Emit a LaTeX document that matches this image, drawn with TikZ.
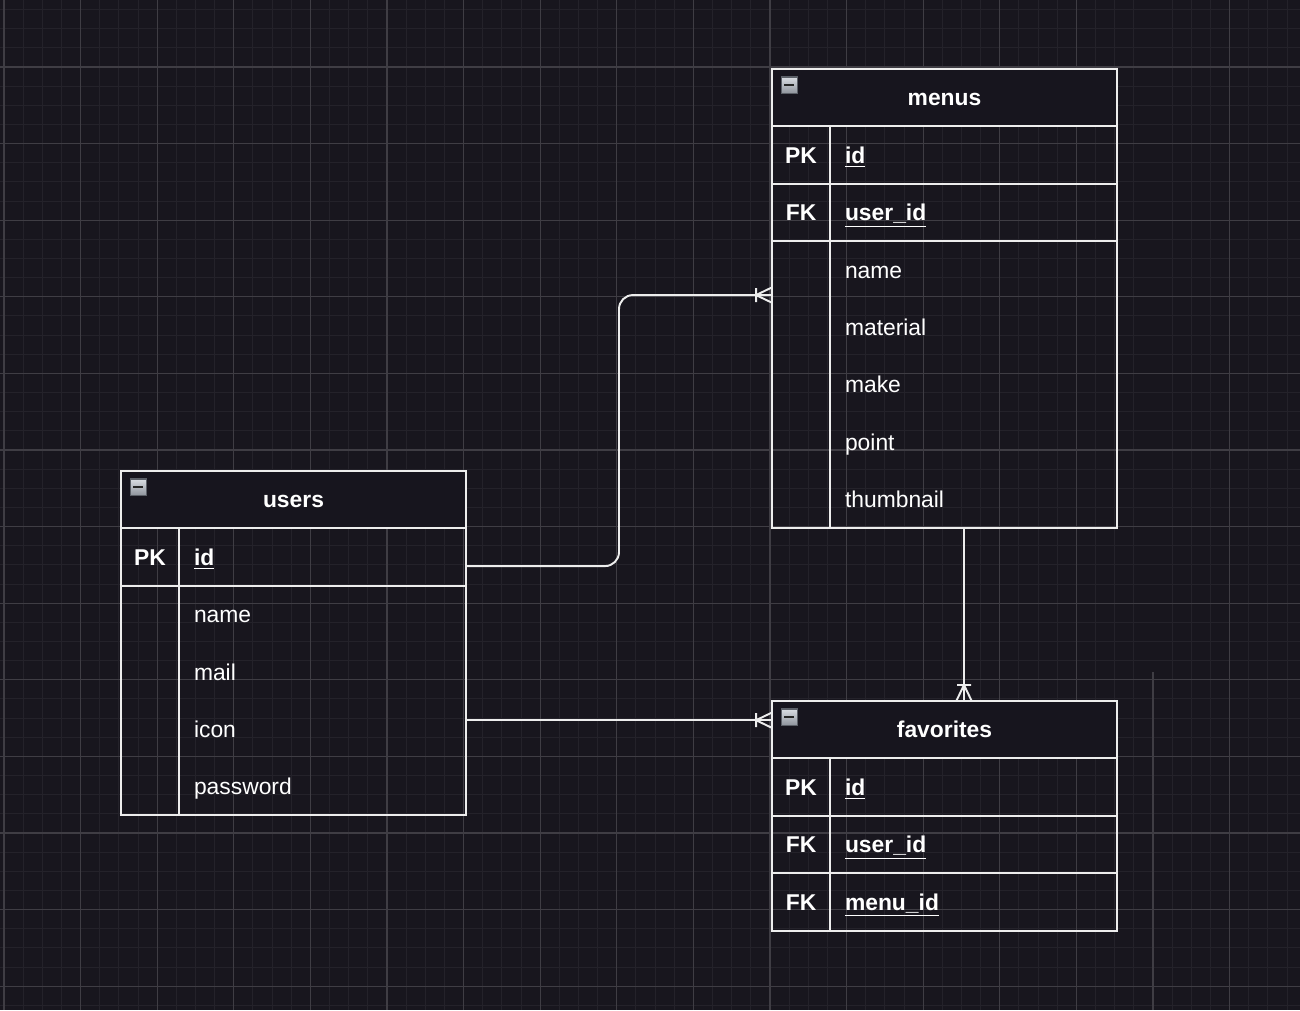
\documentclass[tikz,border=0pt]{standalone}
\usepackage{fontspec}
\setmainfont{Liberation Sans}
\usetikzlibrary{positioning, calc, decorations.markings}
\definecolor{CanvasDark}{HTML}{18161E}
\definecolor{GridMinor}{HTML}{24222A}
\definecolor{GridMajor}{HTML}{3F3D44}
\definecolor{TableLine}{HTML}{EDEDED}
\definecolor{TableHead}{HTML}{17151E}
\definecolor{ToggleEdge}{HTML}{5C6068}
\definecolor{ToggleTop}{HTML}{DADDE3}
\definecolor{ToggleBottom}{HTML}{8E939C}
\tikzset{
    % Table title bar
    tbltitle/.style={
        rectangle,
        draw=TableLine,
        fill=TableHead,
        line width=1.1pt,
        minimum width=6.9cm,
        minimum height=1.148cm,
        inner sep=0pt,
        outer sep=0pt,
        text=white,
        text height=0.33cm,
        text depth=0pt,
        font=\fontsize{13}{15}\selectfont\bfseries
    },
    % Key column cell (PK / FK)
    keycell/.style={
        rectangle,
        draw=TableLine,
        line width=1.1pt,
        minimum width=1.16cm,
        minimum height=1.148cm,
        inner sep=0pt,
        outer sep=0pt,
        text=white,
        text height=0.33cm,
        text depth=0pt,
        font=\fontsize{13}{15}\selectfont\bfseries
    },
    % Plain attribute cell
    fieldcell/.style={
        rectangle,
        minimum width=5.74cm,
        minimum height=1.148cm,
        text width=5.14cm,
        inner xsep=0.3cm,
        inner ysep=0pt,
        outer sep=0pt,
        align=left,
        text=white,
        text height=0.33cm,
        text depth=0pt,
        font=\fontsize{13}{15}\selectfont
    },
    % Key attribute cell
    keyfield/.style={
        fieldcell,
        draw=TableLine,
        line width=1.1pt,
        font=\fontsize{13}{15}\selectfont\bfseries
    },
    % Outline of a table
    tblborder/.style={
        draw=TableLine,
        line width=1.1pt
    },
    % Collapse button in the title bar
    togglebox/.style={
        rectangle,
        draw=ToggleEdge,
        line width=0.6pt,
        top color=ToggleTop,
        bottom color=ToggleBottom,
        minimum size=0.33cm,
        inner sep=0pt,
        outer sep=0pt,
        path picture={
            \draw[line width=1.3pt, black!85]
                ([xshift=-0.1cm]path picture bounding box.center) --
                ([xshift=0.1cm]path picture bounding box.center);
        }
    },
    % Relationship line
    relline/.style={
        draw=TableLine,
        line width=1.1pt
    },
    % Crow's foot, one or many
    relmany/.style={
        postaction={decorate},
        decoration={markings, mark=at position 1 with {
            \draw[relline, sharp corners] (0,0.154cm) -- (-0.32cm,0) -- (0,-0.154cm)
                (-0.32cm,0.14cm) -- (-0.32cm,-0.14cm);
        }}
    },
    % Canvas grid
    minorgrid/.style={
        draw=GridMinor,
        line width=0.6pt
    },
    majorgrid/.style={
        draw=GridMajor,
        line width=0.6pt
    }
}

\begin{document}
\begin{tikzpicture}[x=0.02cm, y=-0.02cm]
        % Canvas and grid
        \useasboundingbox (0,0) rectangle (1300,1010);
        \fill[CanvasDark] (0,0) rectangle (1300,1010);
        \foreach \k in {0,...,67} {
            \ifnum\k=60\relax\else
                \draw[minorgrid] ({4+19.15*\k},0) -- ({4+19.15*\k},1010);
            \fi
        }
        \foreach \k in {-3,...,49}
            \draw[minorgrid] (0,{67+19.15*\k}) -- (1300,{67+19.15*\k});
        \foreach \k in {0,...,16} {
            \ifnum\k=15\relax\else
                \draw[majorgrid] ({4+76.6*\k},0) -- ({4+76.6*\k},1010);
            \fi
        }
        \foreach \k in {0,...,12}
            \draw[majorgrid] (0,{67+76.6*\k}) -- (1300,{67+76.6*\k});
        \draw[majorgrid] (1153,672) -- (1153,1010);

        % Table menus
        \node (menus) [tbltitle] at (944.5,97.7) {menus};
        \node (menusToggle) [togglebox, below right=0.16cm and 0.18cm of menus.north west] {};
        \node (menusPK) [keycell, below right=0pt and 0pt of menus.south west] {PK};
        \node (menusId) [keyfield, right=0pt of menusPK] {\underline{id}};
        \node (menusFK) [keycell, below=0pt of menusPK] {FK};
        \node (menusUser) [keyfield, right=0pt of menusFK] {\underline{user\_id}};
        \node (menusName) [fieldcell, below=0pt of menusUser] {name};
        \node (menusMaterial) [fieldcell, below=0pt of menusName] {material};
        \node (menusMake) [fieldcell, below=0pt of menusMaterial] {make};
        \node (menusPoint) [fieldcell, below=0pt of menusMake] {point};
        \node (menusThumb) [fieldcell, below=0pt of menusPoint] {thumbnail};
        \draw[tblborder] (menus.south west) rectangle (menusThumb.south east);
        \draw[tblborder] (menusFK.south east) -- (menusFK.south east |- menusThumb.south);

        % Table users
        \node (users) [tbltitle] at (293.5,499.7) {users};
        \node (usersToggle) [togglebox, below right=0.16cm and 0.18cm of users.north west] {};
        \node (usersPK) [keycell, below right=0pt and 0pt of users.south west] {PK};
        \node (usersId) [keyfield, right=0pt of usersPK] {\underline{id}};
        \node (usersName) [fieldcell, below=0pt of usersId] {name};
        \node (usersMail) [fieldcell, below=0pt of usersName] {mail};
        \node (usersIcon) [fieldcell, below=0pt of usersMail] {icon};
        \node (usersPass) [fieldcell, below=0pt of usersIcon] {password};
        \draw[tblborder] (users.south west) rectangle (usersPass.south east);
        \draw[tblborder] (usersPK.south east) -- (usersPK.south east |- usersPass.south);

        % Table favorites
        \node (favorites) [tbltitle] at (944.5,729.7) {favorites};
        \node (favToggle) [togglebox, below right=0.16cm and 0.18cm of favorites.north west] {};
        \node (favPK) [keycell, below right=0pt and 0pt of favorites.south west] {PK};
        \node (favId) [keyfield, right=0pt of favPK] {\underline{id}};
        \node (favFK1) [keycell, below=0pt of favPK] {FK};
        \node (favUser) [keyfield, right=0pt of favFK1] {\underline{user\_id}};
        \node (favFK2) [keycell, below=0pt of favFK1] {FK};
        \node (favMenu) [keyfield, right=0pt of favFK2] {\underline{menu\_id}};

        % Relations
        \coordinate (usersOut) at ([yshift=-0.18cm]usersId.east);
        \coordinate (menusJoin) at ([yshift=0.07cm]menusName.south -| menus.west);
        \coordinate (favJoinL) at ([yshift=0.19cm]favorites.west);
        \coordinate (favJoinT) at ([xshift=0.39cm]favorites.north);
        \draw[relline, relmany, rounded corners=0.28cm] (usersOut) -| ($(usersOut)!0.5!(menusJoin)$) |- (menusJoin);
        \draw[relline, relmany] (usersIcon.east |- favJoinL) -- (favJoinL);
        \draw[relline, relmany] (menusThumb.south -| favJoinT) -- (favJoinT);
    \end{tikzpicture}
\end{document}
